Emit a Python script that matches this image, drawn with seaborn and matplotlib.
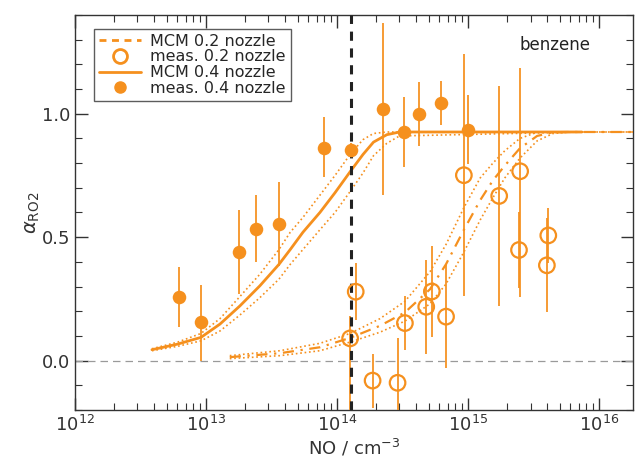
import numpy as np
import pandas as pd
import seaborn as sns
import matplotlib
matplotlib.use("Agg")
import matplotlib.pyplot as plt
from matplotlib.lines import Line2D
from matplotlib.ticker import LogLocator, MultipleLocator, NullFormatter, FormatStrFormatter

# --- datos ---
# medidas 0.4 nozzle (puntos llenos)
no_04 = [6.2e12, 9.2e12, 1.8e13, 2.4e13, 3.6e13, 8.0e13, 1.28e14, 2.26e14, 3.26e14, 4.2e14, 6.2e14, 1.0e15]
alpha_04 = [0.256, 0.155, 0.438, 0.534, 0.552, 0.862, 0.852, 1.019, 0.926, 0.999, 1.043, 0.935]
err_lo_04 = [0.12, 0.155, 0.17, 0.135, 0.17, 0.12, 0.03, 0.35, 0.14, 0.13, 0.09, 0.14]
err_hi_04 = [0.125, 0.152, 0.17, 0.135, 0.17, 0.125, 0.03, 0.35, 0.14, 0.13, 0.09, 0.14]

# medidas 0.2 nozzle (circulos abiertos)
no_02 = [1.26e14, 1.39e14, 1.87e14, 2.9e14, 3.3e14, 4.8e14, 5.3e14, 6.8e14, 9.3e14, 1.73e15, 2.5e15, 2.45e15, 4.1e15, 4.0e15]
alpha_02 = [0.09, 0.279, -0.081, -0.09, 0.152, 0.218, 0.28, 0.178, 0.751, 0.667, 0.767, 0.448, 0.507, 0.386]
err_lo_02 = [0.30, 0.115, 0.11, 0.18, 0.11, 0.19, 0.185, 0.21, 0.49, 0.445, 0.51, 0.155, 0.11, 0.19]
err_hi_02 = [0.09, 0.115, 0.108, 0.18, 0.11, 0.19, 0.185, 0.21, 0.49, 0.445, 0.42, 0.155, 0.11, 0.19]

# curva MCM 0.4 nozzle
mcm04_x = [3.87e12, 6.1e12, 9.16e12, 1.28e13, 1.82e13, 2.58e13, 3.61e13, 4.4e13, 5.5e13, 7.41e13,
           9.66e13, 1.28e14, 1.58e14, 1.9e14, 2.4e14, 3.0e14, 7.4e15]
mcm04_y = [0.044, 0.067, 0.094, 0.148, 0.222, 0.303, 0.39, 0.45, 0.52, 0.60,
           0.68, 0.77, 0.835, 0.885, 0.915, 0.926, 0.926]
mcm04_up = [0.048, 0.075, 0.11, 0.17, 0.26, 0.35, 0.45, 0.52, 0.58, 0.67,
            0.75, 0.84, 0.895, 0.92, 0.926, 0.926, 0.926]
mcm04_lo = [0.04, 0.058, 0.08, 0.12, 0.185, 0.255, 0.33, 0.39, 0.45, 0.53,
            0.60, 0.69, 0.76, 0.83, 0.88, 0.91, 0.926]

# curva MCM 0.2 nozzle
mcm02_x = [1.52e13, 3.67e13, 7.41e13, 1.26e14, 2.13e14, 3.30e14, 5.13e14, 6.79e14, 9.31e14,
           1.24e15, 1.55e15, 1.91e15, 2.49e15, 3.37e15, 4.46e15, 6.01e15, 1.82e16]
mcm02_y = [0.014, 0.03, 0.054, 0.092, 0.141, 0.195, 0.289, 0.39, 0.53,
           0.65, 0.73, 0.79, 0.86, 0.91, 0.925, 0.926, 0.926]
mcm02_up = [0.02, 0.04, 0.07, 0.11, 0.17, 0.24, 0.36, 0.47, 0.62,
            0.74, 0.80, 0.85, 0.90, 0.925, 0.926, 0.926, 0.926]
mcm02_lo = [0.008, 0.02, 0.04, 0.075, 0.115, 0.16, 0.23, 0.31, 0.44,
            0.57, 0.66, 0.74, 0.82, 0.89, 0.92, 0.926, 0.926]

no_ref = 1.27e14
naranja = '#f5901e'

sns.set_theme(style='ticks')
plt.rcParams['font.family'] = ['DejaVu Sans']

fig, ax = plt.subplots(figsize=(6.35, 4.68), dpi=100)
fig.subplots_adjust(left=0.118, right=0.997, bottom=0.124, top=0.968)

# lineas de referencia
ax.axhline(0, color='#9a9a9a', lw=0.9, dashes=(6, 4), zorder=1)
ax.axvline(no_ref, color='#222222', lw=2.2, dashes=(3, 2.5), zorder=5)

# curvas MCM
df04 = pd.DataFrame({'x': mcm04_x, 'y': mcm04_y, 'up': mcm04_up, 'lo': mcm04_lo})
df02 = pd.DataFrame({'x': mcm02_x, 'y': mcm02_y, 'up': mcm02_up, 'lo': mcm02_lo})

sns.lineplot(data=df04, x='x', y='y', ax=ax, color=naranja, lw=2, zorder=3)
for c in ['up', 'lo']:
    sns.lineplot(data=df04, x='x', y=c, ax=ax, color=naranja, lw=1.2, linestyle=':', zorder=3)
    sns.lineplot(data=df02, x='x', y=c, ax=ax, color=naranja, lw=1.2, linestyle=':', zorder=3)
sns.lineplot(data=df02, x='x', y='y', ax=ax, color=naranja, lw=1.6, zorder=3,
             linestyle=(0, (5, 3, 1, 3)))

# barras de error
ax.errorbar(no_04, alpha_04, yerr=[err_lo_04, err_hi_04], fmt='none', ecolor=naranja,
            elinewidth=1.4, alpha=0.9, zorder=4)
ax.errorbar(no_02, alpha_02, yerr=[err_lo_02, err_hi_02], fmt='none', ecolor=naranja,
            elinewidth=1.4, alpha=0.9, zorder=4)

# puntos
sns.scatterplot(x=no_04, y=alpha_04, ax=ax, color=naranja, s=95, edgecolor=naranja, linewidth=0, zorder=6)
ax.scatter(no_02, alpha_02, s=125, facecolors='none', edgecolors=naranja, linewidths=1.6, zorder=6)

ax.set_xscale('log')
ax.set_xlim(1e12, 1.82e16)
ax.set_ylim(-0.2, 1.4)
ax.yaxis.set_major_locator(MultipleLocator(0.5))
ax.yaxis.set_minor_locator(MultipleLocator(0.1))
ax.yaxis.set_major_formatter(FormatStrFormatter('%.1f'))
ax.xaxis.set_major_locator(LogLocator(base=10, numticks=10))
ax.xaxis.set_minor_locator(LogLocator(base=10, subs=np.arange(2, 10), numticks=20))
ax.xaxis.set_minor_formatter(NullFormatter())
ax.tick_params(which='both', direction='in', top=True, right=True, labelsize=13, colors='#333333')
ax.tick_params(which='major', length=9, width=1)
ax.tick_params(which='minor', length=5, width=0.8)
for s in ax.spines.values():
    s.set_color('#333333')
    s.set_linewidth(1)

ax.set_xlabel('NO / cm$^{-3}$', fontsize=13, color='#333333', labelpad=2)
ax.set_ylabel(r'$\alpha_{\mathrm{RO2}}$', fontsize=14, color='#333333', labelpad=0)

ax.text(0.86, 0.925, 'benzene', transform=ax.transAxes, fontsize=12, ha='center', va='center', color='#222222')

handles = [
    Line2D([], [], color=naranja, lw=2, linestyle=(0, (2.5, 2))),
    Line2D([], [], color=naranja, marker='o', markersize=10, markerfacecolor='none', markeredgewidth=2, lw=0),
    Line2D([], [], color=naranja, lw=2),
    Line2D([], [], color=naranja, marker='o', markersize=8, lw=0),
]
labels = ['MCM 0.2 nozzle', 'meas. 0.2 nozzle', 'MCM 0.4 nozzle', 'meas. 0.4 nozzle']
leg = ax.legend(handles, labels, loc='upper left', bbox_to_anchor=(0.035, 0.965), fontsize=11.5,
                frameon=True, fancybox=False, edgecolor='#333333', handlelength=2.6,
                labelspacing=0.05, borderpad=0.3, handletextpad=0.6, borderaxespad=0)
leg.get_frame().set_linewidth(1)

plt.savefig('out.png', dpi=100)
